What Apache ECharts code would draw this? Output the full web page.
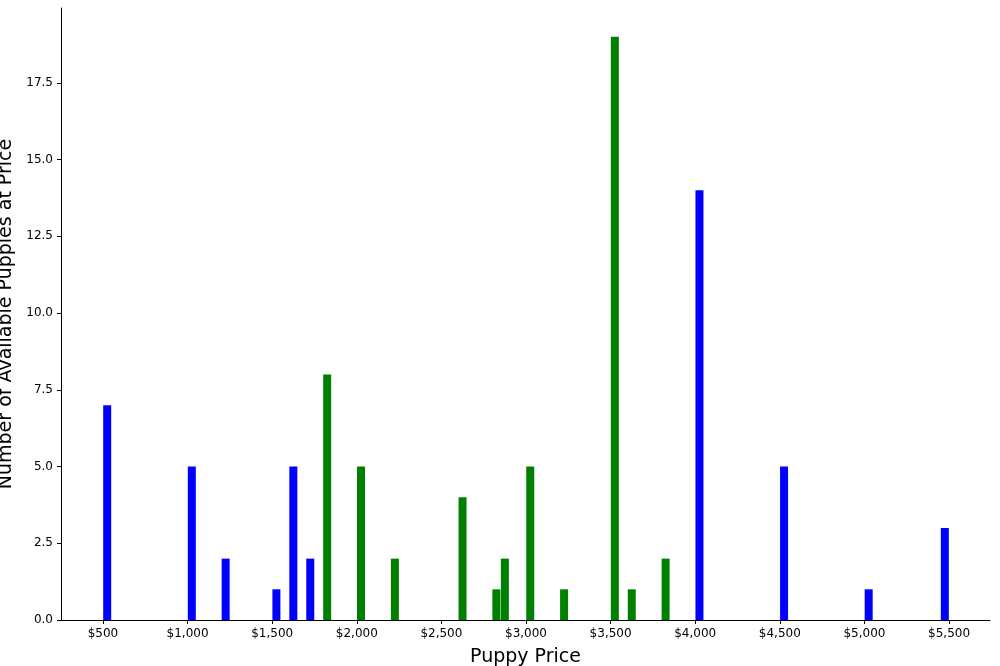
<!DOCTYPE html>
<html><head><meta charset="utf-8">
<script src="https://cdn.jsdelivr.net/npm/echarts@6/dist/echarts.min.js"></script>
<style>html,body{margin:0;padding:0;background:#fff}#c{width:1000px;height:666px}</style>
</head><body><div id="c"></div>
<script>
const bluePrices = [525, 1025, 1225, 1525, 1625, 1725, 4025, 4525, 5025, 5475];
const blueCounts = [7, 5, 2, 1, 5, 2, 14, 5, 1, 3];
const greenPrices = [1825, 2025, 2225, 2625, 2825, 2875, 3025, 3225, 3525, 3625, 3825];
const greenCounts = [8, 5, 2, 4, 1, 2, 5, 1, 19, 1, 2];
const xTicks = [500, 1000, 1500, 2000, 2500, 3000, 3500, 4000, 4500, 5000, 5500];

const chart = echarts.init(document.getElementById('c'));
const font = 'DejaVu Sans';
chart.setOption({
  animation: false,
  grid: {left: 61, right: 10, top: 8, bottom: 46, containLabel: false, outerBoundsMode: 'none'},
  xAxis: {
    type: 'value', min: 252, max: 5742,
    name: 'Puppy Price', nameLocation: 'middle', nameGap: 28,
    nameTextStyle: {fontSize: 19, color: '#000', fontFamily: font},
    axisLine: {lineStyle: {color: '#000'}},
    axisTick: {show: true, customValues: xTicks, length: 4, lineStyle: {color: '#000'}},
    axisLabel: {customValues: xTicks, fontSize: 12, color: '#000', fontFamily: font,
      formatter: v => '$' + v.toLocaleString('en-US')},
    splitLine: {show: false}
  },
  yAxis: {
    type: 'value', min: 0, max: 19.94, interval: 2.5,
    name: 'Number of Available Puppies at Price', nameLocation: 'middle', nameGap: 44,
    nameTextStyle: {fontSize: 19, color: '#000', fontFamily: font},
    axisLine: {show: true, lineStyle: {color: '#000'}},
    axisTick: {show: true, length: 4, lineStyle: {color: '#000'}},
    axisLabel: {fontSize: 12, color: '#000', fontFamily: font, showMaxLabel: false,
      formatter: v => v.toFixed(1)},
    splitLine: {show: false}
  },
  series: [
    {type: 'bar', barWidth: 8, barGap: '-100%', itemStyle: {color: '#0000ff'},
     data: bluePrices.map((p, i) => [p, blueCounts[i]])},
    {type: 'bar', barWidth: 8, barGap: '-100%', itemStyle: {color: '#008000'},
     data: greenPrices.map((p, i) => [p, greenCounts[i]])}
  ]
});
</script></body></html>
